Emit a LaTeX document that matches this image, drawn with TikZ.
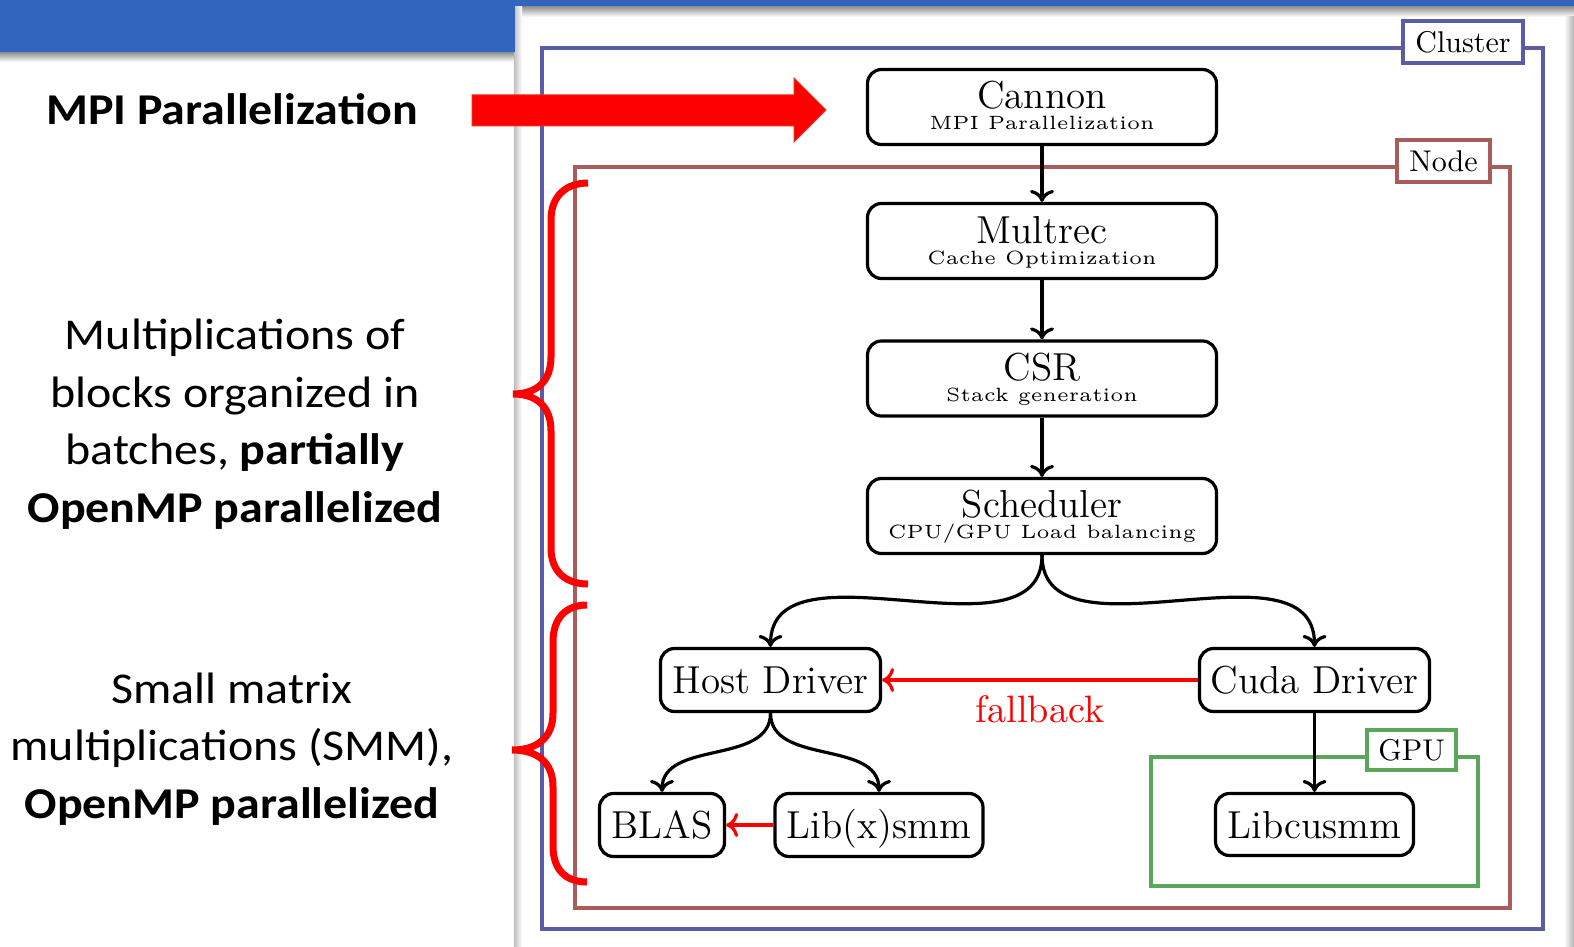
\documentclass[tikz,border=0pt]{standalone}
\usepackage{fontspec}
\usepackage{graphicx}
\usetikzlibrary{arrows.meta}
\newfontfamily\carlito{Carlito}
\definecolor{clusterc}{RGB}{90,92,168}
\definecolor{nodec}{RGB}{168,92,92}
\definecolor{gpuc}{RGB}{92,166,92}
\definecolor{headc}{RGB}{50,102,190}
\definecolor{redz}{RGB}{255,0,0}
\newcommand{\mysub}[1]{\scalebox{1.92}{\tiny #1}}
\newcommand{\mytitle}[1]{\scalebox{1.625}{\large #1}}
\newcommand{\mylbl}[1]{\scalebox{1.5}{\normalsize #1}}
\newcommand{\mywide}[1]{\scalebox{1.09}[1]{#1}}
\tikzset{
  blk/.style={draw, line width=1.6pt, rounded corners=7pt, inner sep=0pt, fill=white},
  bigbox/.style={blk, minimum width=174.5pt, minimum height=37.5pt},
  smallbox/.style={blk, minimum height=31.5pt, text height=13.5pt, text depth=0pt},
  ttl/.style={inner sep=0pt, anchor=base},
  subt/.style={inner sep=0pt, anchor=base},
  conn/.style={line width=1.6pt, -{To[length=6pt,width=12pt]}},
  rconn/.style={conn, draw=redz},
  framebox/.style={line width=2pt},
  lbl/.style={draw, fill=white, line width=2pt, inner sep=0pt},
  lt/.style={inner sep=0pt, anchor=base, font=\carlito\fontsize{22}{26}\selectfont},
  bracez/.style={draw=redz, line width=3.5pt},
}
\begin{document}
\begin{tikzpicture}[x=0.5pt,y=-0.5pt]
\useasboundingbox (0,0) rectangle (1574,947);
\fill[white] (0,0) rectangle (1574,947);
% header and panel shadows
\shade[top color=black!45, bottom color=white] (515,6) rectangle (1574,17);
\shade[top color=black!45, bottom color=white] (0,52) rectangle (515,62);
\shade[left color=black!25, right color=white] (514,6) rectangle (522,947);
\shade[left color=white, right color=black!30] (1564,17) rectangle (1574,947);
\fill[headc] (0,0) rectangle (1574,6);
\fill[headc] (0,0) rectangle (515,52);

% frames
\draw[framebox, clusterc] (542,48) rectangle (1543,929);
\node[lbl, draw=clusterc, minimum width=60pt, minimum height=21pt] (clusterlbl) at (1463,42) {\mylbl{Cluster}};
\draw[framebox, nodec] (575,167) rectangle (1510,908);
\node[lbl, draw=nodec, minimum width=46.5pt, minimum height=21pt] (nodelbl) at (1443.5,161) {\mylbl{Node}};
\draw[framebox, gpuc] (1151,757) rectangle (1478,886);
\node[lbl, draw=gpuc, minimum width=44.5pt, minimum height=20pt] (gpulbl) at (1411.5,750) {\mylbl{GPU}};

% main chain
\node[bigbox] (cannon) at (1042,107) {};
\node[ttl] (cannont) at (1042,109) {\mytitle{Cannon}};
\node[subt] (cannons) at (1042,130) {\mysub{MPI Parallelization}};
\node[bigbox] (multrec) at (1042,241) {};
\node[ttl] (multrect) at (1042,243) {\mytitle{Multrec}};
\node[subt] (multrecs) at (1042,264) {\mysub{Cache Optimization}};
\node[bigbox] (csr) at (1042,378.5) {};
\node[ttl] (csrt) at (1042,380) {\mytitle{CSR}};
\node[subt] (csrs) at (1042,401) {\mysub{Stack generation}};
\node[bigbox] (sched) at (1042,516) {};
\node[ttl] (schedt) at (1042,517) {\mytitle{Scheduler}};
\node[subt] (scheds) at (1042,538) {\mysub{CPU/GPU Load balancing}};

\node[smallbox, minimum width=110pt] (host) at (770.5,680) {\mytitle{Host Driver}};
\node[smallbox, minimum width=115pt] (cuda) at (1314.5,680) {\mytitle{Cuda Driver}};
\node[smallbox, minimum width=62.5pt] (blas) at (662,825) {\mytitle{BLAS}};
\node[smallbox, minimum width=104pt] (libx) at (879,825) {\mytitle{Lib(x)smm}};
\node[smallbox, minimum width=99pt, minimum height=31pt] (libcu) at (1314.5,824.5) {\mytitle{Libcusmm}};

\draw[conn] (cannon) -- (multrec);
\draw[conn] (multrec) -- (csr);
\draw[conn] (csr) -- (sched);
\draw[conn] (sched.south) to[out=-90,in=90] (host.north);
\draw[conn] (sched.south) to[out=-90,in=90] (cuda.north);
\draw[conn] (cuda) -- (libcu);
\draw[conn] (host.south) to[out=-90,in=90] (blas.north);
\draw[conn] (host.south) to[out=-90,in=90] (libx.north);
\draw[rconn] (cuda) -- node[midway, below=7pt, inner sep=0pt, text=redz] (fb) {\scalebox{1.91}{\normalsize fallback}} (host);
\draw[rconn] (libx) -- (blas);

% big red arrow
\filldraw[fill=redz, draw={rgb,255:red,235;green,45;blue,20}, line width=0.5pt]
  (472,95) -- (794,95) -- (794,78) -- (826,110) -- (794,142) -- (794,126) -- (472,126) -- cycle;

% braces
\draw[bracez] (588,183) .. controls (566,183) and (551,196) .. (551,220) -- (551,357)
  .. controls (551,382) and (536,394) .. (513,394) .. controls (536,394) and (551,406) .. (551,431)
  -- (551,548) .. controls (551,572) and (566,584) .. (588,584);
\draw[bracez] (587,605) .. controls (566,605) and (553,618) .. (553,642) -- (553,713)
  .. controls (553,738) and (537,750) .. (512,750) .. controls (537,750) and (553,762) .. (553,787)
  -- (553,846) .. controls (553,870) and (566,882) .. (587,882);

% left texts
\node[lt] (mpi) at (232,125) {\mywide{\bfseries MPI Parallelization}};
\node[lt] (p1a) at (235,349) {\mywide{Multiplications of}};
\node[lt] (p1b) at (235,407) {\mywide{blocks organized in}};
\node[lt] (p1c) at (235,464) {\mywide{batches, \textbf{partially}}};
\node[lt] (p1d) at (235,522) {\mywide{\textbf{OpenMP parallelized}}};
\node[lt] (p2a) at (232,703) {\mywide{Small matrix}};
\node[lt] (p2b) at (232,760) {\mywide{multiplications (SMM),}};
\node[lt] (p2c) at (232,818) {\mywide{\textbf{OpenMP parallelized}}};
\end{tikzpicture}
\end{document}
